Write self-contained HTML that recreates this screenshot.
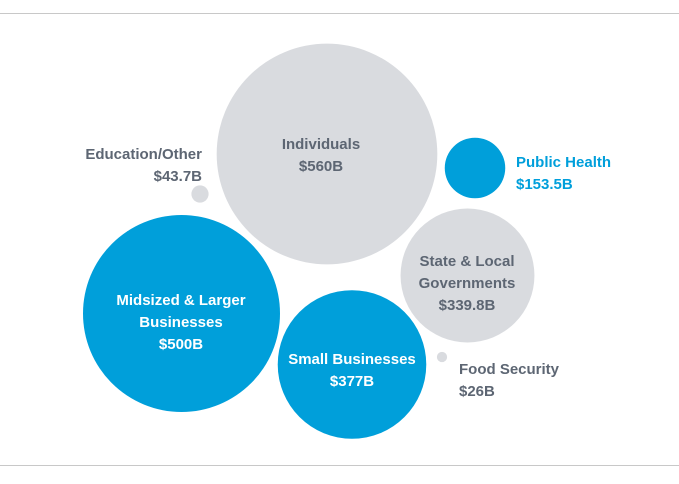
<!DOCTYPE html>
<html><head><meta charset="utf-8"><style>
html,body{margin:0;padding:0;background:#fff;}
body{width:679px;height:479px;overflow:hidden;}
svg text{font-family:"Liberation Sans",sans-serif;font-size:15px;font-weight:bold;}
</style></head><body>
<svg width="679" height="479">
<line x1="0" y1="13.5" x2="679" y2="13.5" stroke="#c8c8c8"/>
<line x1="0" y1="465.5" x2="679" y2="465.5" stroke="#c8c8c8"/>
<g id="bubbles"></g>
<g id="labels"></g>
</svg>
<script>
const categories = ["Individuals","Public Health","Education/Other","State & Local Governments","Midsized & Larger Businesses","Small Businesses","Food Security"];
const values = [560,153.5,43.7,339.8,500,377,26];
const valueLabels = ["$560B","$153.5B","$43.7B","$339.8B","$500B","$377B","$26B"];
const highlight = [false,true,false,false,true,true,false];
// layout (positions, not data)
const layout = [
 {cx:327,cy:154,lines:["Individuals"],lx:321,ly:149,anchor:"middle",fill:"#5d6673",inside:true},
 {cx:475,cy:168,lines:["Public Health"],lx:516,ly:167,anchor:"start",fill:"#009fdb",inside:false},
 {cx:200,cy:194,lines:["Education/Other"],lx:202,ly:159,anchor:"end",fill:"#5d6673",inside:false},
 {cx:467.5,cy:275.5,lines:["State & Local","Governments"],lx:467,ly:266,anchor:"middle",fill:"#5d6673",inside:true},
 {cx:181.5,cy:313.5,lines:["Midsized & Larger","Businesses"],lx:181,ly:305,anchor:"middle",fill:"#fff",inside:true},
 {cx:352,cy:364.5,lines:["Small Businesses"],lx:352,ly:364,anchor:"middle",fill:"#fff",inside:true},
 {cx:442,cy:357,lines:["Food Security"],lx:459,ly:374,anchor:"start",fill:"#5d6673",inside:false}
];
const rScale = v => v * 0.197;
const NS="http://www.w3.org/2000/svg";
const gB=document.getElementById("bubbles"), gL=document.getElementById("labels");
values.forEach((v,i)=>{
  const L=layout[i];
  const c=document.createElementNS(NS,"circle");
  c.setAttribute("cx",L.cx);c.setAttribute("cy",L.cy);c.setAttribute("r",rScale(v));
  c.setAttribute("fill",highlight[i]?"#009fda":"#d9dbdf");
  
  
  gB.appendChild(c);
  const t=document.createElementNS(NS,"text");
  t.setAttribute("text-anchor",L.anchor);t.setAttribute("fill",L.fill);
  
  
  const all=L.lines.concat([valueLabels[i]]);
  all.forEach((s,j)=>{
    const ts=document.createElementNS(NS,"tspan");
    ts.setAttribute("x",L.lx);ts.setAttribute("y",L.ly+j*22);
    ts.textContent=s;t.appendChild(ts);
  });
  gL.appendChild(t);
});
</script>
</body></html>
